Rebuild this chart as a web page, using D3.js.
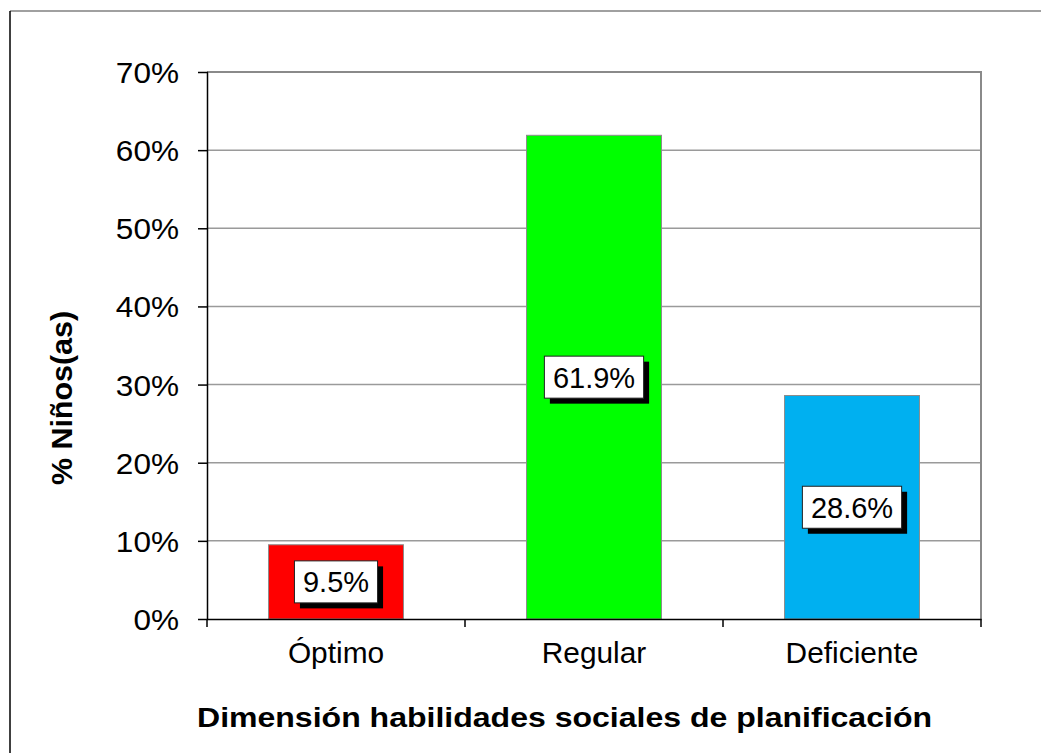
<!DOCTYPE html>
<html>
<head>
<meta charset="utf-8">
<script src="https://cdn.jsdelivr.net/npm/d3@7"></script>
<style>
  html, body { margin: 0; padding: 0; background: #fff; }
  svg { display: block; }
  text { font-family: "Liberation Sans", Arial, sans-serif; fill: #000; }
</style>
</head>
<body>
<div id="chart"></div>
<script>
// ---- data ----
const categories = ["Óptimo", "Regular", "Deficiente"];
const values = [9.5, 61.9, 28.6];
const barColors = ["#FF0000", "#00FF00", "#00B0F0"];
const yTicks = [0, 10, 20, 30, 40, 50, 60, 70];
const yTitle = "% Niños(as)";
const xTitle = "Dimensión habilidades sociales de planificación";

// ---- layout ----
const W = 1041, H = 753;
const plot = { left: 207, right: 981, top: 72, bottom: 619 };

const svg = d3.select("#chart").append("svg").attr("width", W).attr("height", H);

// outer chart border
svg.append("line").attr("x1", 10).attr("x2", W).attr("y1", 11).attr("y2", 11)
  .attr("stroke", "#808080").attr("stroke-width", 1.5);
svg.append("line").attr("x1", 10).attr("x2", 10).attr("y1", 11).attr("y2", H)
  .attr("stroke", "#000").attr("stroke-width", 1.5);

const x = d3.scaleBand().domain(categories)
  .range([plot.left, plot.right]).paddingInner(0.477).paddingOuter(0.2385);
const y = d3.scaleLinear().domain([0, 70]).range([plot.bottom, plot.top]);

// gridlines
svg.append("g").selectAll("line").data(yTicks.filter(d => d > 0 && d < 70)).join("line")
  .attr("x1", plot.left).attr("x2", plot.right)
  .attr("y1", d => y(d)).attr("y2", d => y(d))
  .attr("stroke", "#9a9a9a").attr("stroke-width", 1.5);

// plot border top & right
svg.append("path")
  .attr("d", `M${plot.left},${y(70)}H${plot.right}V${plot.bottom}`)
  .attr("fill", "none").attr("stroke", "#8a8a8a").attr("stroke-width", 2);

// bars
svg.append("g").selectAll("rect").data(values).join("rect")
  .attr("x", (d, i) => x(categories[i]))
  .attr("width", x.bandwidth())
  .attr("y", d => y(d))
  .attr("height", d => y(0) - y(d))
  .attr("fill", (d, i) => barColors[i])
  .attr("stroke", "#8c8c8c").attr("stroke-width", 1);

// y axis
const yAxis = svg.append("g").attr("transform", `translate(${plot.left},0)`)
  .call(d3.axisLeft(y).tickValues(yTicks).tickFormat(d => d + "%").tickSizeInner(9).tickSizeOuter(0));
yAxis.select(".domain").attr("stroke", "#000").attr("stroke-width", 1.5);
yAxis.selectAll(".tick line").attr("stroke", "#000").attr("stroke-width", 1.5).attr("x2", -9).attr("x1", 1);
yAxis.selectAll(".tick text")
  .attr("x", null).attr("dy", null)
  .attr("transform", "translate(-28,10.5) scale(1.07,1)")
  .style("font-size", "29.5px").style("font-family", "Liberation Sans, Arial, sans-serif")
  .attr("fill", "#000").attr("text-anchor", "end");

// x axis (domain + boundary ticks)
const xAxis = svg.append("g").attr("transform", `translate(0,${plot.bottom})`)
  .call(d3.axisBottom(x).tickSize(0).tickPadding(0));
xAxis.select(".domain").attr("stroke", "#000").attr("stroke-width", 1.5);
xAxis.selectAll(".tick text")
  .attr("y", null).attr("dy", null)
  .attr("transform", "translate(0,44) scale(1.03,1)")
  .style("font-size", "29px").style("font-family", "Liberation Sans, Arial, sans-serif")
  .attr("fill", "#000");
const bounds = d3.range(categories.length + 1).map(i => x.range()[0] + i * x.step());
xAxis.append("g").selectAll("line").data(bounds).join("line")
  .attr("x1", d => d).attr("x2", d => d).attr("y1", 0).attr("y2", 8)
  .attr("stroke", "#000").attr("stroke-width", 1.5);

// data labels
const lab = svg.append("g").selectAll("g").data(values).join("g")
  .attr("transform", (d, i) => `translate(${x(categories[i]) + x.bandwidth() / 2},${(y(d) + y(0)) / 2})`);
lab.each(function (d) {
  const g = d3.select(this);
  const shadow = g.append("rect").attr("fill", "#000");
  const box = g.append("rect").attr("fill", "#fff").attr("stroke", "#222").attr("stroke-width", 1);
  const t = g.append("text").text(d.toFixed(1) + "%")
    .attr("text-anchor", "middle").attr("y", 10.5)
    .style("font-size", "29px");
  const w = t.node().getComputedTextLength() + 17;
  const h = 42;
  box.attr("x", -w / 2).attr("y", -h / 2).attr("width", w).attr("height", h);
  shadow.attr("x", -w / 2 + 5.5).attr("y", -h / 2 + 5.5).attr("width", w).attr("height", h);
});

// axis titles
svg.append("text").text(yTitle)
  .attr("transform", "translate(72,398) rotate(-90) scale(1.05,1)")
  .attr("text-anchor", "middle")
  .style("font-size", "29px").style("font-weight", "bold");

svg.append("text").text(xTitle)
  .attr("x", 564.5).attr("y", 727)
  .attr("text-anchor", "middle")
  .attr("textLength", 735).attr("lengthAdjust", "spacingAndGlyphs")
  .style("font-size", "28.5px").style("font-weight", "bold");
</script>
</body>
</html>
